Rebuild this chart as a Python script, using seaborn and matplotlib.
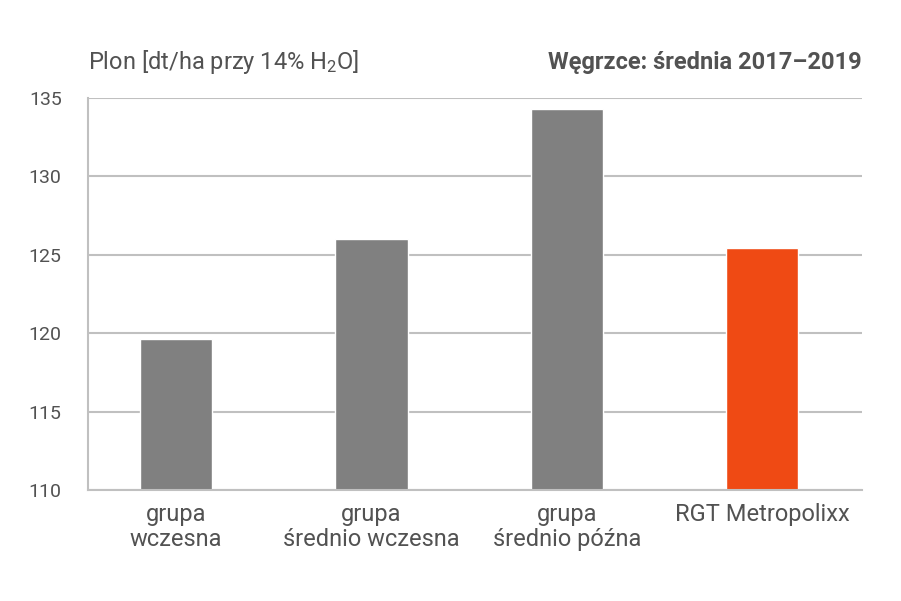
import matplotlib
matplotlib.use("Agg")
import matplotlib.pyplot as plt
import seaborn as sns
import pandas as pd

categories = ["grupa\nwczesna", "grupa\nśrednio wczesna", "grupa\nśrednio późna", "RGT Metropolixx"]
values = [119.6, 126.0, 134.3, 125.45]
colors = ["#808080", "#808080", "#808080", "#EF4A14"]
y_ticks = [110, 115, 120, 125, 130, 135]

df = pd.DataFrame({"kategoria": categories, "plon": values})

sns.set_style("white")
plt.rcParams["font.family"] = ["Roboto", "DejaVu Sans"]
plt.rcParams["mathtext.fontset"] = "custom"
plt.rcParams["mathtext.rm"] = "Roboto"
plt.rcParams["mathtext.it"] = "Roboto"
plt.rcParams["mathtext.default"] = "regular"
text_color = "#525252"
grid_color = "#C0C0C0"

fig = plt.figure(figsize=(9.01, 6.01), dpi=100)
ax = fig.add_axes([88 / 901, 1 - 490 / 601, 774 / 901, 392 / 601])

sns.barplot(data=df, x="kategoria", y="plon", hue="kategoria", palette=colors,
            width=0.37, legend=False, ax=ax, saturation=1)

ax.set_ylim(110, 135)
ax.set_yticks(y_ticks)
ax.set_xlim(-0.45, 3.51)
ax.yaxis.grid(True, color=grid_color, linewidth=1.5)
ax.set_axisbelow(True)
for side in ["top", "right"]:
    ax.spines[side].set_visible(False)
for side in ["left", "bottom"]:
    ax.spines[side].set_color(grid_color)
    ax.spines[side].set_linewidth(1.5)

ax.tick_params(axis="y", length=0, labelsize=14, colors=text_color, pad=19)
ax.tick_params(axis="x", length=0, labelsize=17, colors=text_color, pad=9)
for lbl in ax.get_xticklabels():
    lbl.set_linespacing(1.15)
ax.set_xlabel("")
ax.set_ylabel("")

fig.text(88 / 901, 1 - 62 / 601, "Plon [dt/ha przy 14% H$_2$O]", fontsize=17,
         color=text_color, ha="left", va="center")
fig.text(862 / 901, 1 - 62 / 601, "Węgrzce: średnia 2017–2019", fontsize=17,
         color=text_color, ha="right", va="center", fontweight="bold")

fig.savefig("out.png", dpi=100)
